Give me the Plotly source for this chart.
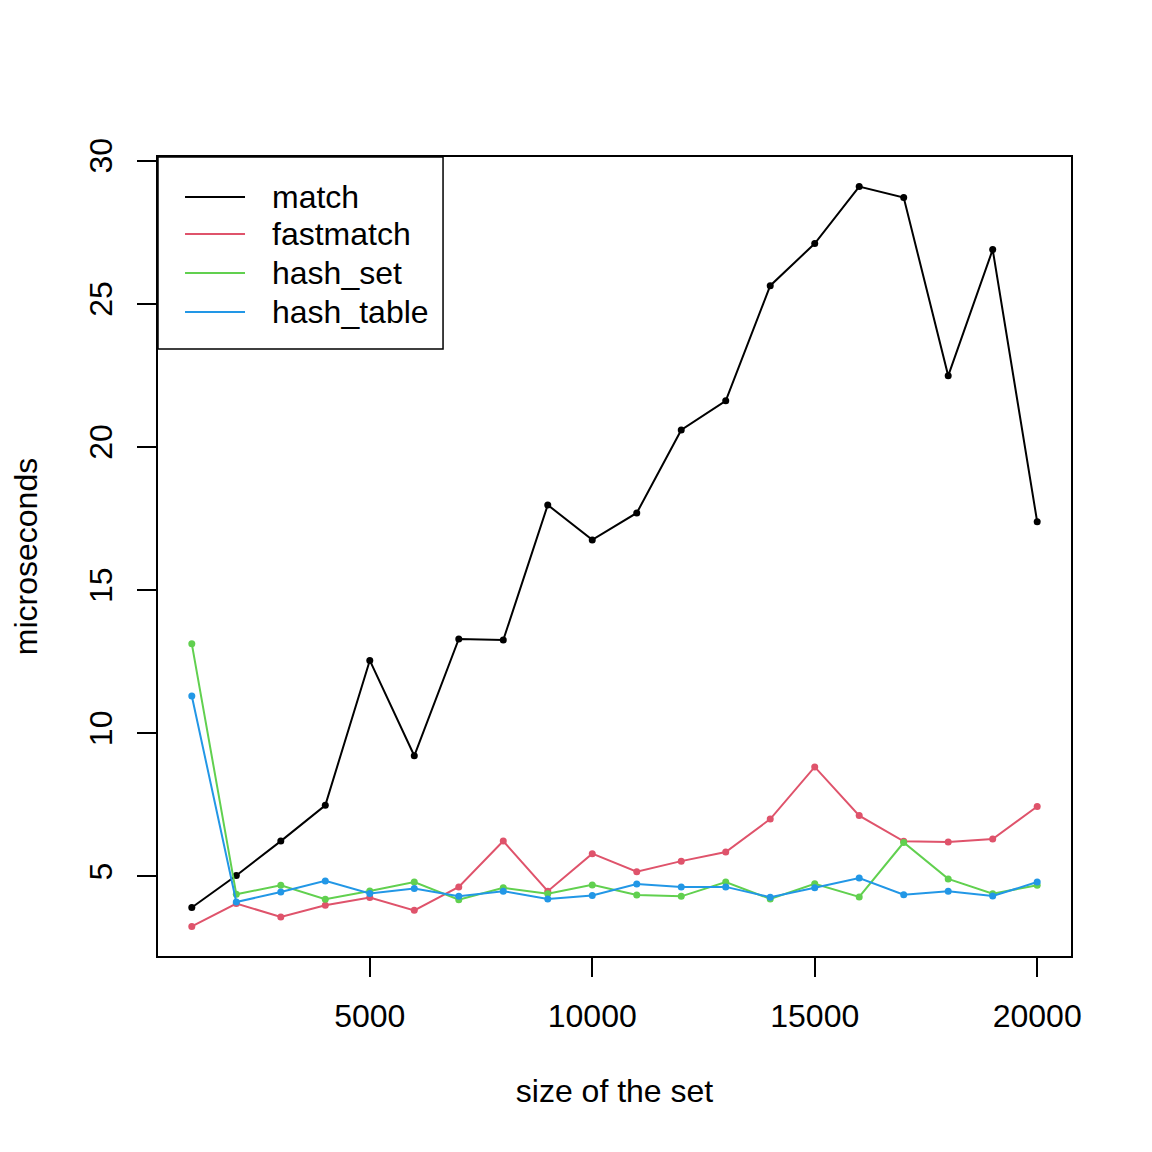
import plotly.graph_objects as go

sizes = [1000, 2000, 3000, 4000, 5000, 6000, 7000, 8000, 9000, 10000,
         11000, 12000, 13000, 14000, 15000, 16000, 17000, 18000, 19000, 20000]

match = [3.91, 5.03, 6.23, 7.48, 12.54, 9.21, 13.29, 13.25, 17.97, 16.75,
         17.69, 20.59, 21.61, 25.63, 27.10, 29.09, 28.71, 22.48, 26.89, 17.38]
fastmatch = [3.25, 4.05, 3.58, 3.99, 4.26, 3.81, 4.63, 6.23, 4.48, 5.79,
             5.16, 5.53, 5.85, 7.00, 8.82, 7.12, 6.22, 6.20, 6.30, 7.44]
hash_set = [13.12, 4.37, 4.69, 4.20, 4.49, 4.80, 4.18, 4.60, 4.39, 4.70,
            4.35, 4.30, 4.80, 4.21, 4.74, 4.28, 6.18, 4.91, 4.39, 4.69]
hash_table = [11.30, 4.10, 4.45, 4.84, 4.40, 4.57, 4.30, 4.48, 4.21, 4.33,
              4.73, 4.63, 4.63, 4.27, 4.60, 4.94, 4.36, 4.48, 4.31, 4.80]

series_names = ["match", "fastmatch", "hash_set", "hash_table"]
series_values = [match, fastmatch, hash_set, hash_table]
series_colors = ["#000000", "#DF536B", "#61D04F", "#2297E6"]

x_ticks = [5000, 10000, 15000, 20000]
y_ticks = [5, 10, 15, 20, 25, 30]

FONT = "Liberation Sans, Arial, Helvetica, sans-serif"
FS = 32

fig = go.Figure()
for name, vals, col in zip(series_names, series_values, series_colors):
    fig.add_trace(go.Scatter(
        x=sizes, y=vals, name=name, mode="lines+markers",
        line=dict(color=col, width=2),
        marker=dict(color=col, size=7),
        showlegend=False,
    ))

# R-style 4% axis extension
all_y = [v for s in series_values for v in s]
ymin, ymax = min(all_y), max(all_y)
yr = ymax - ymin
xmin, xmax = min(sizes), max(sizes)
xr = xmax - xmin

fig.update_layout(
    width=1152, height=1152,
    margin=dict(l=150, r=89, t=149, b=204),
    paper_bgcolor="white", plot_bgcolor="white",
    font=dict(family=FONT, size=FS, color="black"),
    xaxis=dict(
        range=[xmin - 0.04 * xr, xmax + 0.04 * xr],
        tickvals=x_ticks, ticktext=[str(t) for t in x_ticks],
        ticks="outside", ticklen=19, tickwidth=1.5, tickcolor="black",
        showline=True, linecolor="black", linewidth=1.5, mirror=True,
        showgrid=False, zeroline=False, automargin=False,
        ticklabelstandoff=12,
        title=dict(text="size of the set", standoff=46,
                   font=dict(family=FONT, size=FS)),
    ),
    yaxis=dict(
        range=[ymin - 0.04 * yr, ymax + 0.04 * yr],
        tickvals=y_ticks, ticktext=[str(t) for t in y_ticks],
        tickangle=-90,
        ticks="outside", ticklen=19, tickwidth=1.5, tickcolor="black",
        showline=True, linecolor="black", linewidth=1.5, mirror=True,
        showgrid=False, zeroline=False, automargin=False,
        ticklabelstandoff=12,
        title=dict(text="microseconds", standoff=44,
                   font=dict(family=FONT, size=FS)),
    ),
)

# R-style legend box (top-left, inside plot region)
fig.add_shape(type="rect", xref="paper", yref="paper",
              x0=0.0, x1=0.3122, y0=0.7597, y1=1.0,
              line=dict(color="black", width=1.5), fillcolor="white", layer="above")
row_y = [0.9499, 0.9036, 0.8548, 0.8060]
for name, col, ry in zip(series_names, series_colors, row_y):
    fig.add_shape(type="line", xref="paper", yref="paper",
                  x0=0.0296, x1=0.0953, y0=ry, y1=ry,
                  line=dict(color=col, width=2), layer="above")
    fig.add_annotation(xref="paper", yref="paper", x=0.123, y=ry,
                       text=name, showarrow=False, xanchor="left", yanchor="middle",
                       font=dict(family=FONT, size=FS, color="black"))

fig.write_html("out.html")
